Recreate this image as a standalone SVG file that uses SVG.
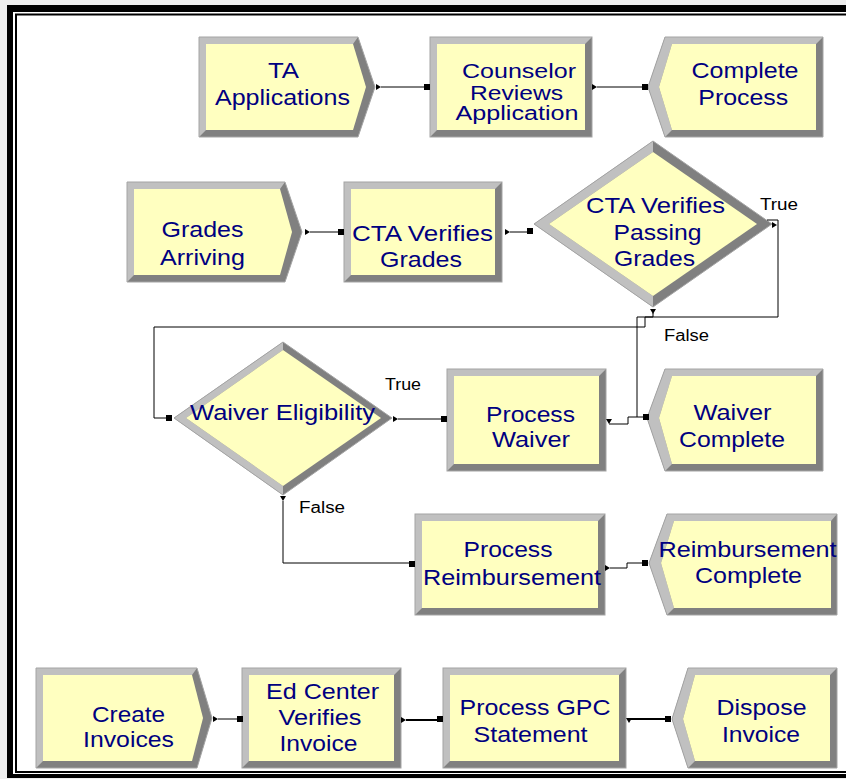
<svg xmlns="http://www.w3.org/2000/svg" xmlns:xlink="http://www.w3.org/1999/xlink" width="846" height="779" viewBox="0 0 846 779">
  <style>
    .lt{fill:#c0c0c0}
    .dk{fill:#808080}
    .bg{fill:#ffffc0}
    .edge{fill:none;stroke:#a4a4a4;stroke-width:1}
    .t{font-family:"Liberation Sans",Arial,sans-serif;font-size:22px;fill:#000080;text-anchor:middle}
    .tight{font-size:20px}
    .lab{font-family:"Liberation Sans",Arial,sans-serif;font-size:16px;fill:#000000;text-anchor:middle}
    .wire{fill:none;stroke:#000000;stroke-width:1}
    .thick{stroke-width:2}
    .mk{fill:#000000}
  </style>
  <defs>
    <rect id="sq" class="mk" x="-3" y="-3" width="6" height="6"/>
    <path id="tr" class="mk" d="M0,-3 L5,0 L0,3 Z"/>
    <path id="td" class="mk" d="M-3,0 L3,0 L0,5 Z"/>
  </defs>

  <!-- window frame -->
  <rect x="0" y="0" width="846" height="779" fill="#eeeeee"/>
  <rect x="7" y="5" width="850" height="773" fill="#000000"/>
  <rect x="13" y="12" width="840" height="762" fill="#ffffff"/>
  <path d="M850,14.5 H16 V772 H850" fill="none" stroke="#000000" stroke-width="2"/>

  <!-- TA Applications (create) -->
  <g id="ta-applications">
    <polygon class="dk" points="199,37 358,37 375,87 358,137 199,137"/>
    <polygon class="lt" points="199,37 358,37 353,44 206,44 206,130 199,137"/>
    <polygon class="bg" points="206,44 353,44 366,87 353,130 206,130"/>
    <polygon class="edge" points="199,37 358,37 375,87 358,137 199,137"/>
    <text class="t" x="283.5" y="78" textLength="31" lengthAdjust="spacingAndGlyphs">TA</text>
    <text class="t" x="282.5" y="105" textLength="135" lengthAdjust="spacingAndGlyphs">Applications</text>
  </g>

  <!-- Counselor Reviews Application (process) -->
  <g id="counselor-reviews">
    <rect class="dk" x="430" y="37" width="162" height="100"/>
    <polygon class="lt" points="430,37 592,37 585,44 437,44 437,130 430,137"/>
    <rect class="bg" x="437" y="44" width="148" height="86"/>
    <rect class="edge" x="430" y="37" width="162" height="100"/>
    <text class="t tight" x="519" y="78" textLength="114" lengthAdjust="spacingAndGlyphs">Counselor</text>
    <text class="t tight" x="516.5" y="99.5" textLength="93" lengthAdjust="spacingAndGlyphs">Reviews</text>
    <text class="t tight" x="517" y="120" textLength="123" lengthAdjust="spacingAndGlyphs">Application</text>
  </g>

  <!-- Complete Process (dispose) -->
  <g id="complete-process">
    <polygon class="dk" points="648,87 665,37 823,37 823,137 665,137"/>
    <polygon class="lt" points="648,87 665,37 823,37 816,44 672,44 659,87 672,130 665,137"/>
    <polygon class="bg" points="659,87 672,44 816,44 816,130 672,130"/>
    <polygon class="edge" points="648,87 665,37 823,37 823,137 665,137"/>
    <text class="t" x="745" y="78" textLength="107" lengthAdjust="spacingAndGlyphs">Complete</text>
    <text class="t" x="743.3" y="105" textLength="90" lengthAdjust="spacingAndGlyphs">Process</text>
  </g>

  <!-- Grades Arriving (create) -->
  <g id="grades-arriving">
    <polygon class="dk" points="127,182 285,182 302,232 285,282 127,282"/>
    <polygon class="lt" points="127,182 285,182 280,189 134,189 134,275 127,282"/>
    <polygon class="bg" points="134,189 280,189 292,232 280,275 134,275"/>
    <polygon class="edge" points="127,182 285,182 302,232 285,282 127,282"/>
    <text class="t" x="202.5" y="237" textLength="82" lengthAdjust="spacingAndGlyphs">Grades</text>
    <text class="t" x="202.5" y="265" textLength="85" lengthAdjust="spacingAndGlyphs">Arriving</text>
  </g>

  <!-- CTA Verifies Grades (process) -->
  <g id="cta-verifies-grades">
    <rect class="dk" x="344" y="182" width="158" height="100"/>
    <polygon class="lt" points="344,182 502,182 495,189 351,189 351,275 344,282"/>
    <rect class="bg" x="351" y="189" width="144" height="86"/>
    <rect class="edge" x="344" y="182" width="158" height="100"/>
    <text class="t" x="422.5" y="241" textLength="141" lengthAdjust="spacingAndGlyphs">CTA Verifies</text>
    <text class="t" x="421" y="266.5" textLength="82" lengthAdjust="spacingAndGlyphs">Grades</text>
  </g>

  <!-- CTA Verifies Passing Grades (decide) -->
  <g id="cta-passing-grades">
    <polygon class="dk" points="653,141 772,224 653,307 534,224"/>
    <polygon class="lt" points="653,141 534,224 653,307 653,296 549,224 653,152"/>
    <polygon class="bg" points="653,152 757,224 653,296 549,224"/>
    <polygon class="edge" points="653,141 772,224 653,307 534,224"/>
    <text class="t" x="655.5" y="213" textLength="139" lengthAdjust="spacingAndGlyphs">CTA Verifies</text>
    <text class="t" x="657.5" y="240" textLength="88" lengthAdjust="spacingAndGlyphs">Passing</text>
    <text class="t" x="654.5" y="266" textLength="81" lengthAdjust="spacingAndGlyphs">Grades</text>
  </g>

  <!-- Waiver Eligibility (decide) -->
  <g id="waiver-eligibility">
    <polygon class="dk" points="283,342 392,418 283,495 174,418"/>
    <polygon class="lt" points="283,342 174,418 283,495 283,486 186,418 283,350"/>
    <polygon class="bg" points="283,350 381,418 283,486 186,418"/>
    <polygon class="edge" points="283,342 392,418 283,495 174,418"/>
    <text class="t" x="282.5" y="420" textLength="185" lengthAdjust="spacingAndGlyphs">Waiver Eligibility</text>
  </g>

  <!-- Process Waiver (process) -->
  <g id="process-waiver">
    <rect class="dk" x="447" y="369" width="159" height="102"/>
    <polygon class="lt" points="447,369 606,369 599,376 454,376 454,464 447,471"/>
    <rect class="bg" x="454" y="376" width="145" height="88"/>
    <rect class="edge" x="447" y="369" width="159" height="102"/>
    <text class="t" x="530.5" y="421.5" textLength="89" lengthAdjust="spacingAndGlyphs">Process</text>
    <text class="t" x="531" y="447" textLength="78" lengthAdjust="spacingAndGlyphs">Waiver</text>
  </g>

  <!-- Waiver Complete (dispose) -->
  <g id="waiver-complete">
    <polygon class="dk" points="647,418 665,369 823,369 823,471 665,471"/>
    <polygon class="lt" points="647,418 665,369 823,369 816,376 672,376 659,418 672,464 665,471"/>
    <polygon class="bg" points="659,418 672,376 816,376 816,464 672,464"/>
    <polygon class="edge" points="647,418 665,369 823,369 823,471 665,471"/>
    <text class="t" x="732.5" y="420" textLength="78" lengthAdjust="spacingAndGlyphs">Waiver</text>
    <text class="t" x="732" y="447" textLength="106" lengthAdjust="spacingAndGlyphs">Complete</text>
  </g>

  <!-- Process Reimbursement (process) -->
  <g id="process-reimbursement">
    <rect class="dk" x="415" y="514" width="190" height="101"/>
    <polygon class="lt" points="415,514 605,514 598,521 422,521 422,608 415,615"/>
    <rect class="bg" x="422" y="521" width="176" height="87"/>
    <rect class="edge" x="415" y="514" width="190" height="101"/>
    <text class="t" x="508" y="557" textLength="89" lengthAdjust="spacingAndGlyphs">Process</text>
    <text class="t" x="512" y="585" textLength="178" lengthAdjust="spacingAndGlyphs">Reimbursement</text>
  </g>

  <!-- Reimbursement Complete (dispose) -->
  <g id="reimbursement-complete">
    <polygon class="dk" points="649,563 667,514 837,514 837,615 667,615"/>
    <polygon class="lt" points="649,563 667,514 837,514 831,521 674,521 661,563 674,608 667,615"/>
    <polygon class="bg" points="661,563 674,521 831,521 831,608 674,608"/>
    <polygon class="edge" points="649,563 667,514 837,514 837,615 667,615"/>
    <text class="t" x="747.5" y="557" textLength="178" lengthAdjust="spacingAndGlyphs">Reimbursement</text>
    <text class="t" x="748.5" y="583" textLength="107" lengthAdjust="spacingAndGlyphs">Complete</text>
  </g>

  <!-- Create Invoices (create) -->
  <g id="create-invoices">
    <polygon class="dk" points="36,668 197,668 212,718 197,768 36,768"/>
    <polygon class="lt" points="36,668 197,668 192,675 43,675 43,761 36,768"/>
    <polygon class="bg" points="43,675 192,675 203,718 192,761 43,761"/>
    <polygon class="edge" points="36,668 197,668 212,718 197,768 36,768"/>
    <text class="t" x="128.5" y="721.5" textLength="73" lengthAdjust="spacingAndGlyphs">Create</text>
    <text class="t" x="128.5" y="746.5" textLength="91" lengthAdjust="spacingAndGlyphs">Invoices</text>
  </g>

  <!-- Ed Center Verifies Invoice (process) -->
  <g id="ed-center-verifies">
    <rect class="dk" x="242" y="668" width="159" height="100"/>
    <polygon class="lt" points="242,668 401,668 394,675 249,675 249,761 242,768"/>
    <rect class="bg" x="249" y="675" width="145" height="86"/>
    <rect class="edge" x="242" y="668" width="159" height="100"/>
    <text class="t" x="322.5" y="699" textLength="113" lengthAdjust="spacingAndGlyphs">Ed Center</text>
    <text class="t" x="320" y="725" textLength="83" lengthAdjust="spacingAndGlyphs">Verifies</text>
    <text class="t" x="318.5" y="751" textLength="78" lengthAdjust="spacingAndGlyphs">Invoice</text>
  </g>

  <!-- Process GPC Statement (process) -->
  <g id="process-gpc">
    <rect class="dk" x="443" y="668" width="183" height="100"/>
    <polygon class="lt" points="443,668 626,668 619,675 450,675 450,761 443,768"/>
    <rect class="bg" x="450" y="675" width="169" height="86"/>
    <rect class="edge" x="443" y="668" width="183" height="100"/>
    <text class="t" x="535" y="715" textLength="151" lengthAdjust="spacingAndGlyphs">Process GPC</text>
    <text class="t" x="530.5" y="741.5" textLength="114" lengthAdjust="spacingAndGlyphs">Statement</text>
  </g>

  <!-- Dispose Invoice (dispose) -->
  <g id="dispose-invoice">
    <polygon class="dk" points="672,719 688,668 837,668 837,768 688,768"/>
    <polygon class="lt" points="672,719 688,668 837,668 830,675 695,675 683,719 695,761 688,768"/>
    <polygon class="bg" points="683,719 695,675 830,675 830,761 695,761"/>
    <polygon class="edge" points="672,719 688,668 837,668 837,768 688,768"/>
    <text class="t" x="761.5" y="715" textLength="90" lengthAdjust="spacingAndGlyphs">Dispose</text>
    <text class="t" x="761" y="741.5" textLength="78" lengthAdjust="spacingAndGlyphs">Invoice</text>
  </g>

  <!-- connectors -->
  <g id="connectors">
    <!-- TA Applications -> Counselor Reviews Application -->
    <path class="wire" d="M381,87 H425"/>
    <use xlink:href="#tr" x="376" y="87"/>
    <use xlink:href="#sq" x="427" y="87"/>

    <!-- Counselor Reviews Application -> Complete Process -->
    <path class="wire" d="M597,87 H643"/>
    <use xlink:href="#tr" x="592" y="87"/>
    <use xlink:href="#sq" x="645" y="87"/>

    <!-- Grades Arriving -> CTA Verifies Grades -->
    <path class="wire" d="M310,232 H339"/>
    <use xlink:href="#tr" x="305" y="232"/>
    <use xlink:href="#sq" x="341" y="232"/>

    <!-- CTA Verifies Grades -> CTA Verifies Passing Grades -->
    <path class="wire" d="M510,232 H528"/>
    <use xlink:href="#tr" x="505" y="232"/>
    <use xlink:href="#sq" x="530" y="231"/>

    <!-- True: -> Waiver Eligibility -->
    <path class="wire" d="M767,220 H778 V317 H645 V327 H154 V418 H168"/>
    <use xlink:href="#tr" x="772" y="225"/>
    <use xlink:href="#sq" x="169" y="418"/>
    <text class="lab" x="779" y="210" textLength="38" lengthAdjust="spacingAndGlyphs">True</text>

    <!-- False: -> Waiver Complete -->
    <path class="wire" d="M653,313 V317 H637 V417 H646"/>
    <use xlink:href="#td" x="653" y="309"/>
    <text class="lab" x="686.5" y="340.5" textLength="45" lengthAdjust="spacingAndGlyphs">False</text>

    <!-- Process Waiver -> Waiver Complete -->
    <path class="wire" d="M609,424 H628 V417 H637"/>
    <use xlink:href="#td" x="609" y="419"/>
    <use xlink:href="#sq" x="646" y="417"/>

    <!-- Waiver Eligibility True -> Process Waiver -->
    <path class="wire" d="M398,419 H442"/>
    <use xlink:href="#tr" x="393" y="419"/>
    <use xlink:href="#sq" x="444" y="419"/>
    <text class="lab" x="403" y="390" textLength="36" lengthAdjust="spacingAndGlyphs">True</text>

    <!-- Waiver Eligibility False -> Process Reimbursement -->
    <path class="wire" d="M283,501 V563 H410"/>
    <use xlink:href="#td" x="283" y="496"/>
    <use xlink:href="#sq" x="412" y="564"/>
    <text class="lab" x="322" y="513" textLength="46" lengthAdjust="spacingAndGlyphs">False</text>

    <!-- Process Reimbursement -> Reimbursement Complete -->
    <path class="wire" d="M610,568 H627 V563 H643"/>
    <use xlink:href="#tr" x="605" y="568"/>
    <use xlink:href="#sq" x="645" y="563"/>

    <!-- Create Invoices -> Ed Center Verifies Invoice -->
    <path class="wire" d="M218,719 H238"/>
    <use xlink:href="#tr" x="213" y="719"/>
    <use xlink:href="#sq" x="240" y="719"/>

    <!-- Ed Center Verifies Invoice -> Process GPC Statement -->
    <path class="wire thick" d="M406,720 H438"/>
    <use xlink:href="#tr" x="401" y="720"/>
    <use xlink:href="#sq" x="440" y="719"/>

    <!-- Process GPC Statement -> Dispose Invoice -->
    <path class="wire thick" d="M630,719 H666"/>
    <use xlink:href="#td" x="629" y="718"/>
    <use xlink:href="#sq" x="668" y="719"/>
  </g>
</svg>
